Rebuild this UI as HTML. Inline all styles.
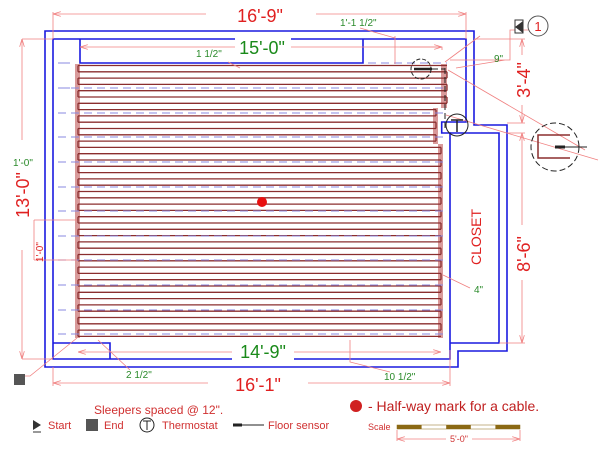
<!DOCTYPE html>
<html><head><meta charset="utf-8"><style>body{margin:0;background:#fff}svg{display:block}text{font-family:"Liberation Sans",sans-serif}</style></head><body>
<svg width="600" height="450" viewBox="0 0 600 450" xmlns="http://www.w3.org/2000/svg">
<defs><marker id="a" viewBox="0 0 10 6" refX="10" refY="3" markerWidth="10" markerHeight="6" orient="auto-start-reverse"><path d="M0,0 L10,3 L0,6" fill="none" stroke="#f08080" stroke-width="1"/></marker></defs>
<rect x="75" y="64" width="5" height="274" fill="#d99a9a"/>
<rect x="441" y="64" width="6" height="44" fill="#d99a9a"/>
<rect x="433" y="108" width="5" height="36" fill="#d99a9a"/>
<rect x="438" y="144" width="5" height="194" fill="#d99a9a"/>
<g stroke="#8b2e2e" stroke-width="1.3" fill="none">
<path d="M78,65.5H447M78,71.8H447M78,78.1H447M78,84.4H447M78,90.7H447M78,97H447M78,103.3H447M78,109.6H436M78,115.9H436M78,122.2H436M78,128.5H436M78,134.8H436M78,141.1H436M78,147.4H441M78,153.7H441M78,160H441M78,166.3H441M78,172.6H441M78,178.9H441M78,185.2H441M78,191.5H441M78,197.8H441M78,204.1H441M78,210.4H441M78,216.7H441M78,223H441M78,229.3H441M78,235.6H441M78,241.9H441M78,248.2H441M78,254.5H441M78,260.8H441M78,267.1H441M78,273.4H441M78,279.7H441M78,286H441M78,292.3H441M78,298.6H441M78,304.9H441M78,311.2H441M78,317.5H441M78,323.8H441M78,330.1H441M78,336.4H441"/>
<path d="M78,65.5V71.8M78,78.1V84.4M78,90.7V97M78,103.3V109.6M78,115.9V122.2M78,128.5V134.8M78,141.1V147.4M78,153.7V160M78,166.3V172.6M78,178.9V185.2M78,191.5V197.8M78,204.1V210.4M78,216.7V223M78,229.3V235.6M78,241.9V248.2M78,254.5V260.8M78,267.1V273.4M78,279.7V286M78,292.3V298.6M78,304.9V311.2M78,317.5V323.8M78,330.1V336.4"/>
<path d="M447,71.8V78.1M447,84.4V90.7M447,97V103.3M436,109.6V115.9M436,122.2V128.5M436,134.8V141.1M441,147.4V153.7M441,160V166.3M441,172.6V178.9M441,185.2V191.5M441,197.8V204.1M441,210.4V216.7M441,223V229.3M441,235.6V241.9M441,248.2V254.5M441,260.8V267.1M441,273.4V279.7M441,286V292.3M441,298.6V304.9M441,311.2V317.5M441,323.8V330.1"/>
</g>
<g stroke="#8888e0" stroke-width="1" stroke-dasharray="8,5">
<path d="M82,63H447M58,88H447M58,113H447M58,137H447M58,162H447M58,187H447M58,211H447M58,236H447M58,260H447M58,285H447M58,310H447M58,334H447"/>
<path d="M58,63H70M58,88H70" stroke-dasharray="none"/>
</g>
<g stroke="#1a1adf" stroke-width="1.6" fill="none">
<path d="M45,31H474V125H507V351H458V367H45Z"/>
<path d="M53,39H466V122H441.7V133H450V359H53Z"/>
<path d="M450,133H499V343H450"/>
<path d="M80,39V63H363V39"/>
<path d="M53,343H110V359"/>
</g>
<g stroke="#f08080" stroke-width="0.8" fill="none">
<path d="M53,14H466" marker-start="url(#a)" marker-end="url(#a)"/>
<path d="M53,12V39M466,12V39"/>
<path d="M80,47H442" marker-start="url(#a)" marker-end="url(#a)"/>
<path d="M22,39V359" marker-start="url(#a)" marker-end="url(#a)"/>
<path d="M22,39H53M22,359H53"/>
<path d="M522,39V123" marker-start="url(#a)" marker-end="url(#a)"/>
<path d="M474,39H525M507,123H525M507,133H525M499,343H525"/>
<path d="M522,133V343" marker-start="url(#a)" marker-end="url(#a)"/>
<path d="M78,352H441" marker-start="url(#a)" marker-end="url(#a)"/>
<path d="M53,383H450" marker-start="url(#a)" marker-end="url(#a)"/>
<path d="M53,367V386M450,350V386"/>
<path d="M34,220V260M34,220H77M34,260H77"/>
<path d="M228,62L240,68M395,36V64M395,38L360,28M445,62L480,36M456,68L505,60M448,70L585,150M446,115L598,160M443,275L470,288M350,340V362L390,372M98,340L130,370M77,338L30,376H20M450,60H510V30H530"/>
<path d="M400,47H442V50"/>
</g>
<g font-size="18" fill="#e02020" text-anchor="middle">
<rect x="206" y="5" width="110" height="20" fill="#fff"/><text x="260" y="22">16'-9"</text>
<rect x="208" y="373" width="100" height="20" fill="#fff"/><text x="258" y="391">16'-1"</text>
<rect x="12" y="140" width="20" height="110" fill="#fff"/><text transform="translate(29,195) rotate(-90)">13'-0"</text>
<rect x="514" y="55" width="18" height="50" fill="#fff"/><text transform="translate(530,80) rotate(-90)">3'-4"</text>
<rect x="514" y="225" width="18" height="55" fill="#fff"/><text transform="translate(530,254) rotate(-90)">8'-6"</text>
</g>
<g font-size="18" fill="#1a8a1a" text-anchor="middle">
<rect x="235" y="38" width="56" height="18" fill="#fff"/><text x="262" y="54">15'-0"</text>
<rect x="232" y="342" width="62" height="18" fill="#fff"/><text x="263" y="358">14'-9"</text>
</g>
<g font-size="10" fill="#2a8a2a">
<text x="196" y="57">1 1/2"</text><text x="340" y="26">1'-1 1/2"</text><text x="494" y="62">9"</text>
<text x="13" y="166">1'-0"</text><text x="474" y="293">4"</text><text x="126" y="378">2 1/2"</text><text x="384" y="380">10 1/2"</text>
</g>
<text transform="translate(43,262) rotate(-90)" font-size="10" fill="#e02020">1'-0"</text>
<text transform="translate(481,265) rotate(-90)" font-size="14" fill="#e02020">CLOSET</text>
<circle cx="262" cy="202" r="5" fill="#e81010"/>
<g stroke="#222" fill="none">
<circle cx="421" cy="69" r="10" stroke-dasharray="4,2"/>
<path d="M414,69H432" stroke-width="2.5"/><path d="M432,69H445M445,68V130" stroke-width="1" stroke-dasharray="6,3"/>
<circle cx="457" cy="125" r="11"/><path d="M451,120H463M457,120V132" stroke-width="1.5"/>
<circle cx="555" cy="147" r="24" stroke-dasharray="6,3"/>
<path d="M570,135H538V158H570" stroke="#8b2e2e" stroke-width="1.5"/>
<path d="M555,147H587" stroke-width="1"/><path d="M555,147H565" stroke-width="3"/>
</g>
<rect x="515" y="20" width="8" height="13" fill="#fff" stroke="#333"/><path d="M515,27L523,21V33Z" fill="#333"/>
<circle cx="538" cy="26" r="10" fill="#fff" stroke="#555"/><text x="538" y="31" font-size="13" fill="#e02020" text-anchor="middle">1</text>
<rect x="14" y="374" width="11" height="11" fill="#555"/>
<text x="94" y="414" font-size="12" fill="#d03030">Sleepers spaced @ 12".</text>
<path d="M33,420L41,425L33,430Z" fill="#333"/><path d="M33,432H41" stroke="#333"/>
<text x="48" y="429" font-size="11" fill="#d03030">Start</text>
<rect x="86" y="419" width="12" height="12" fill="#555"/>
<text x="104" y="429" font-size="11" fill="#d03030">End</text>
<circle cx="147" cy="425" r="7" fill="none" stroke="#222"/><path d="M143,421H151M147,421V430" stroke="#222"/>
<text x="162" y="429" font-size="11" fill="#d03030">Thermostat</text>
<path d="M233,425H242" stroke="#222" stroke-width="3"/><path d="M242,425H264" stroke="#222"/>
<text x="268" y="429" font-size="11" fill="#d03030">Floor sensor</text>
<circle cx="356" cy="406" r="6" fill="#d02020"/>
<text x="368" y="411" font-size="14" fill="#c02020">- Half-way mark for a cable.</text>
<text x="368" y="430" font-size="9" fill="#d03030">Scale</text>
<rect x="397" y="425" width="123" height="4" fill="#fff" stroke="#8b6914" stroke-width="0.5"/>
<rect x="397" y="425" width="24.6" height="4" fill="#8b6914"/><rect x="446.2" y="425" width="24.6" height="4" fill="#8b6914"/><rect x="495.4" y="425" width="24.6" height="4" fill="#8b6914"/>
<path d="M397,430V441M520,430V441" stroke="#f08080" stroke-width="0.8"/>
<path d="M397,439H520" stroke="#f08080" stroke-width="0.8" marker-start="url(#a)" marker-end="url(#a)"/>
<rect x="446" y="433" width="26" height="10" fill="#fff"/><text x="459" y="442" font-size="9" fill="#d03030" text-anchor="middle">5'-0"</text>
</svg>
</body></html>
